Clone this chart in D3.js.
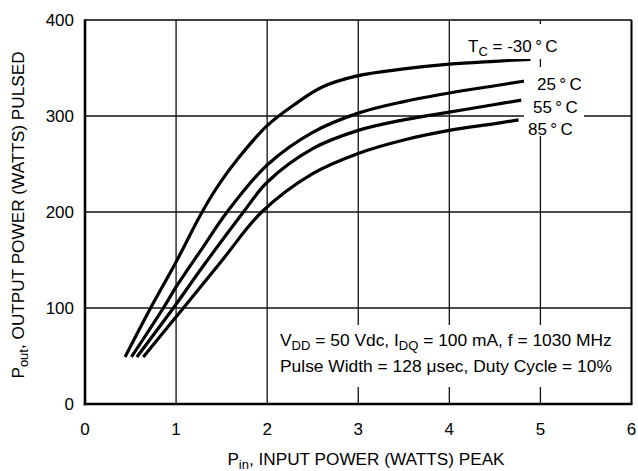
<!DOCTYPE html>
<html>
<head>
<meta charset="utf-8">
<script src="https://cdn.jsdelivr.net/npm/d3@7"></script>
<style>
  body { margin: 0; background: #fff; }
  text { font-family: "Liberation Sans", Arial, Helvetica, sans-serif; fill: #000; }
</style>
</head>
<body>
<script>
// Output power vs input power at four case temperatures
var xTicks = [0, 1, 2, 3, 4, 5, 6];
var yTicks = [0, 100, 200, 300, 400];

var pinM30 = [0.44, 0.72, 1.0, 1.28, 1.48, 1.7, 2.0, 2.3, 2.6, 3.0, 3.5, 4.0, 4.5, 4.89];
var poutM30 = [49, 100, 148, 199, 230, 258, 290, 312, 330, 342, 349, 354, 357, 359];

var pin25 = [0.51, 0.86, 1.0, 1.3, 1.56, 2.0, 2.5, 3.0, 3.5, 4.0, 4.5, 4.83];
var pout25 = [49, 100, 122, 164, 200, 249, 283, 303, 315, 324, 331.5, 336.5];

var pin55 = [0.57, 0.97, 1.3, 1.74, 2.0, 2.5, 3.0, 3.5, 4.0, 4.5, 4.79];
var pout55 = [49, 100, 144, 200, 231, 266, 285, 296, 304, 312, 316.5];

var pin85 = [0.64, 1.08, 1.5, 1.94, 2.5, 3.0, 3.5, 4.0, 4.5, 4.76];
var pout85 = [49, 100, 149, 200, 240, 261, 275, 285, 292, 296];

var tempNames = ["-30", "25", "55", "85"];

var width = 638, height = 471;
var plotL = 85, plotR = 631.5, plotT = 20, plotB = 404;

var svg = d3.select("body").append("svg")
    .attr("width", width)
    .attr("height", height);

var x = d3.scaleLinear().domain([0, 6]).range([plotL, plotR]);
var y = d3.scaleLinear().domain([0, 400]).range([plotB, plotT]);

// grid
var grid = svg.append("g").attr("stroke", "#111").attr("stroke-width", 1.3);
grid.selectAll("line.v")
    .data(xTicks.slice(1, -1))
    .enter().append("line")
    .attr("x1", function(d) { return x(d); })
    .attr("x2", function(d) { return x(d); })
    .attr("y1", plotT).attr("y2", plotB);
grid.selectAll("line.h")
    .data(yTicks.slice(1, -1))
    .enter().append("line")
    .attr("x1", plotL).attr("x2", plotR)
    .attr("y1", function(d) { return y(d); })
    .attr("y2", function(d) { return y(d); });

// frame: thin top/right, heavier left/bottom
svg.append("line").attr("x1", plotL).attr("x2", plotR).attr("y1", plotT).attr("y2", plotT)
    .attr("stroke", "#000").attr("stroke-width", 1.5);
svg.append("line").attr("x1", plotR).attr("x2", plotR).attr("y1", plotT).attr("y2", plotB)
    .attr("stroke", "#000").attr("stroke-width", 2);
svg.append("line").attr("x1", plotL).attr("x2", plotL).attr("y1", plotT - 0.75).attr("y2", plotB + 1.25)
    .attr("stroke", "#000").attr("stroke-width", 2.6);
svg.append("line").attr("x1", plotL - 1.3).attr("x2", plotR + 1).attr("y1", plotB).attr("y2", plotB)
    .attr("stroke", "#000").attr("stroke-width", 2.6);

// tick labels
svg.append("g").selectAll("text")
    .data(yTicks)
    .enter().append("text")
    .attr("x", plotL - 11)
    .attr("y", function(d) { return y(d) + 6; })
    .attr("text-anchor", "end")
    .style("font-size", "17px")
    .text(function(d) { return d; });

svg.append("g").selectAll("text")
    .data(xTicks)
    .enter().append("text")
    .attr("x", function(d) { return x(d); })
    .attr("y", 435)
    .attr("text-anchor", "middle")
    .style("font-size", "17px")
    .text(function(d) { return d; });

// curves
var series = [
    { pin: pinM30, pout: poutM30 },
    { pin: pin25, pout: pout25 },
    { pin: pin55, pout: pout55 },
    { pin: pin85, pout: pout85 }
];

var line = d3.line()
    .x(function(d) { return x(d[0]); })
    .y(function(d) { return y(d[1]); })
    .curve(d3.curveCatmullRom.alpha(0.5));

svg.append("g").selectAll("path")
    .data(series)
    .enter().append("path")
    .attr("d", function(s) { return line(d3.zip(s.pin, s.pout)); })
    .attr("fill", "none")
    .attr("stroke", "#000")
    .attr("stroke-width", 3.2)
    .attr("stroke-linecap", "butt");

// temperature labels, white behind them so the gridlines break
svg.append("rect").attr("x", 463).attr("y", 24).attr("width", 104).attr("height", 35).attr("fill", "#fff");
svg.append("rect").attr("x", 524).attr("y", 67).attr("width", 60).attr("height", 69).attr("fill", "#fff");

var deg = "\u2009\u00b0\u2009C";
var t30 = svg.append("text").attr("x", 468).attr("y", 52).style("font-size", "17px");
t30.append("tspan").text("T");
t30.append("tspan").attr("dy", 4).style("font-size", "13px").text("C");
t30.append("tspan").attr("dy", -4).text(" = " + tempNames[0] + deg);

var labelPos = [null, [537, 90], [533, 113], [528, 135]];
for (var i = 1; i < 4; i++) {
    svg.append("text")
        .attr("x", labelPos[i][0])
        .attr("y", labelPos[i][1])
        .style("font-size", "17px")
        .text(tempNames[i] + deg);
}

// test conditions box
svg.append("rect")
    .attr("x", x(2) + 1.5).attr("y", 325)
    .attr("width", x(6) - x(2) - 3).attr("height", 62)
    .attr("fill", "#fff");

var c1 = svg.append("text").attr("x", 280).attr("y", 346).style("font-size", "17.4px");
c1.append("tspan").text("V");
c1.append("tspan").attr("dy", 4).style("font-size", "13px").text("DD");
c1.append("tspan").attr("dy", -4).text(" = 50 Vdc, I");
c1.append("tspan").attr("dy", 4).style("font-size", "13px").text("DQ");
c1.append("tspan").attr("dy", -4).text(" = 100 mA, f = 1030 MHz");

svg.append("text").attr("x", 280).attr("y", 372).style("font-size", "17.4px")
    .text("Pulse Width = 128 \u03bcsec, Duty Cycle = 10%");

// axis titles
var xt = svg.append("text").attr("x", 366).attr("y", 465).attr("text-anchor", "middle").style("font-size", "17.2px");
xt.append("tspan").text("P");
xt.append("tspan").attr("dy", 3.5).style("font-size", "13px").text("in");
xt.append("tspan").attr("dy", -3.5).text(", INPUT POWER (WATTS) PEAK");

var yt = svg.append("text")
    .attr("transform", "translate(24,215) rotate(-90)")
    .attr("text-anchor", "middle")
    .style("font-size", "17.2px");
yt.append("tspan").text("P");
yt.append("tspan").attr("dy", 4).style("font-size", "13px").text("out");
yt.append("tspan").attr("dy", -4).text(", OUTPUT POWER (WATTS) PULSED");
</script>
</body>
</html>
